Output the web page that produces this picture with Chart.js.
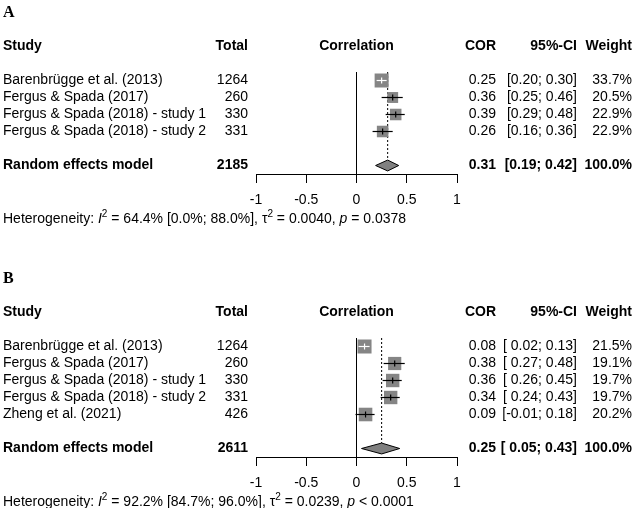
<!DOCTYPE html>
<html>
<head>
<meta charset="utf-8">
<script src="https://cdn.jsdelivr.net/npm/chart.js@4.4.0/dist/chart.umd.min.js"></script>
<style>
  html, body { margin: 0; padding: 0; background: #fff; }
  .panel { position: absolute; left: 0; width: 636px; }
  canvas { display: block; }
</style>
</head>
<body>
<div class="panel" style="top:0"><canvas id="chartA" width="636" height="266"></canvas></div>
<div class="panel" style="top:266px"><canvas id="chartB" width="636" height="242"></canvas></div>
<script>
// panel A
const studiesA = ['Barenbrügge et al. (2013)', 'Fergus & Spada (2017)', 'Fergus & Spada (2018) - study 1', 'Fergus & Spada (2018) - study 2'];
const totalsA = [1264, 260, 330, 331];
const corA = [0.25, 0.36, 0.39, 0.26];
const lowerA = [0.20, 0.25, 0.29, 0.16];
const upperA = [0.30, 0.46, 0.48, 0.36];
const weightA = [33.7, 20.5, 22.9, 22.9];
const pooledA = [0.31, 0.19, 0.42];   // COR, lower, upper
const pooledTotalA = 2185;
const hetA = ['64.4% [0.0%; 88.0%]', '0.0040', '= 0.0378'];

// panel B
const studiesB = ['Barenbrügge et al. (2013)', 'Fergus & Spada (2017)', 'Fergus & Spada (2018) - study 1', 'Fergus & Spada (2018) - study 2', 'Zheng et al. (2021)'];
const totalsB = [1264, 260, 330, 331, 426];
const corB = [0.08, 0.38, 0.36, 0.34, 0.09];
const lowerB = [0.02, 0.27, 0.26, 0.24, -0.01];
const upperB = [0.13, 0.48, 0.45, 0.43, 0.18];
const weightB = [21.5, 19.1, 19.7, 19.7, 20.2];
const pooledB = [0.25, 0.05, 0.43];
const pooledTotalB = 2611;
const hetB = ['92.2% [84.7%; 96.0%]', '0.0239', '< 0.0001'];

const xTicks = [-1, -0.5, 0, 0.5, 1];

const FONT = "'Liberation Sans', Arial, Helvetica, sans-serif";
const ROW_H = 17;
const BOX_MAX = 14;      // side of the largest square, px
const DIAMOND_H = 0.32;  // half height of the diamond, in rows
const COL = { study: 3, total: 248, cor: 496, ci: 577, weight: 632 };

function makePanel(id, label, studies, totals, cor, lower, upper, weight, pooled, pooledTotal, het) {
  const canvas = document.getElementById(id);
  const H = canvas.height;
  const n = studies.length;
  const poolRow = n + 1;
  const wMax = Math.max(...weight);
  const side = weight.map(w => BOX_MAX * Math.sqrt(w / wMax));

  // CI fits inside its square -> draw it white
  const inside = (chart, i) => {
    const xs = chart.scales.x;
    return xs.getPixelForValue(upper[i]) - xs.getPixelForValue(lower[i]) <= side[i];
  };

  const datasets = [];
  datasets.push({
    type: 'line', data: [{ x: 0, y: -0.5 }, { x: 0, y: poolRow + 0.5 }],
    borderColor: '#000', borderWidth: 1, pointRadius: 0, order: 7
  });
  datasets.push({
    type: 'line', data: [{ x: pooled[0], y: -0.5 }, { x: pooled[0], y: poolRow - DIAMOND_H }],
    borderColor: '#000', borderWidth: 1, borderDash: [2, 2], pointRadius: 0, order: 6
  });
  datasets.push({
    type: 'scatter', data: cor.map((c, i) => ({ x: c, y: i })),
    pointStyle: 'rect', pointRadius: side.map(s => s / Math.SQRT2),
    pointBackgroundColor: '#858585', pointBorderWidth: 0, order: 5
  });
  cor.forEach((c, i) => {
    datasets.push({
      type: 'line', data: [{ x: lower[i], y: i }, { x: upper[i], y: i }],
      borderColor: ctx => inside(ctx.chart, i) ? '#fff' : '#000',
      borderWidth: 1.2, pointRadius: 0, order: 4
    });
  });
  datasets.push({
    type: 'scatter', data: cor.map((c, i) => ({ x: c, y: i })),
    pointStyle: 'line', rotation: 90, pointRadius: 3, pointBorderWidth: 1.2,
    pointBorderColor: ctx => inside(ctx.chart, ctx.dataIndex) ? '#fff' : '#000',
    order: 3
  });
  datasets.push({
    type: 'line',
    data: [
      { x: pooled[1], y: poolRow }, { x: pooled[0], y: poolRow - DIAMOND_H },
      { x: pooled[2], y: poolRow }, { x: pooled[0], y: poolRow + DIAMOND_H },
      { x: pooled[1], y: poolRow }
    ],
    fill: 'shape', backgroundColor: '#808080', borderColor: '#000', borderWidth: 1,
    pointRadius: 0, tension: 0, order: 1
  });

  const neg = lower.some(v => v < 0) || pooled[1] < 0;
  const fmtLo = v => (neg && v >= 0 ? ' ' : '') + v.toFixed(2);
  const ciText = (lo, hi) => '[' + fmtLo(lo) + '; ' + hi.toFixed(2) + ']';

  const tablePlugin = {
    id: 'table' + id,
    afterDraw(chart) {
      const ctx = chart.ctx;
      const ys = chart.scales.y, xs = chart.scales.x;
      const rowY = r => ys.getPixelForValue(r);
      const txt = (s, x, y, align, bold) => {
        ctx.font = (bold ? 'bold ' : '') + '14px ' + FONT;
        ctx.textAlign = align;
        ctx.fillText(s, x, y);
      };
      ctx.save();
      ctx.fillStyle = '#000';
      ctx.textBaseline = 'middle';

      ctx.font = "bold 16px 'Liberation Serif', 'Times New Roman', serif";
      ctx.textAlign = 'left';
      ctx.fillText(label, 3, 13);

      const hy = rowY(-2);
      txt('Study', COL.study, hy, 'left', true);
      txt('Total', COL.total, hy, 'right', true);
      txt('Correlation', xs.getPixelForValue(0), hy, 'center', true);
      txt('COR', COL.cor, hy, 'right', true);
      txt('95%-CI', COL.ci, hy, 'right', true);
      txt('Weight', COL.weight, hy, 'right', true);

      studies.forEach((s, i) => {
        const y = rowY(i);
        txt(s, COL.study, y, 'left', false);
        txt(String(totals[i]), COL.total, y, 'right', false);
        txt(cor[i].toFixed(2), COL.cor, y, 'right', false);
        txt(ciText(lower[i], upper[i]), COL.ci, y, 'right', false);
        txt(weight[i].toFixed(1) + '%', COL.weight, y, 'right', false);
      });

      const py = rowY(poolRow);
      txt('Random effects model', COL.study, py, 'left', true);
      txt(String(pooledTotal), COL.total, py, 'right', true);
      txt(pooled[0].toFixed(2), COL.cor, py, 'right', true);
      txt(ciText(pooled[1], pooled[2]), COL.ci, py, 'right', true);
      txt('100.0%', COL.weight, py, 'right', true);

      // heterogeneity line
      const parts = [
        ['Heterogeneity: ', 'n'], ['I', 'i'], ['2', 's'],
        [' = ' + het[0] + ', \u03c4', 'n'], ['2', 's'],
        [' = ' + het[1] + ', ', 'n'], ['p', 'i'], [' ' + het[2], 'n']
      ];
      let x = 3;
      const y = chart.chartArea.bottom + 45;
      ctx.textAlign = 'left';
      parts.forEach(([s, k]) => {
        ctx.font = (k === 'i' ? 'italic 14px ' : k === 's' ? '10px ' : '14px ') + FONT;
        ctx.fillText(s, x, k === 's' ? y - 5 : y);
        x += ctx.measureText(s).width;
      });
      ctx.restore();
    }
  };

  return new Chart(canvas, {
    type: 'scatter',
    data: { datasets },
    options: {
      responsive: false,
      animation: false,
      events: [],
      layout: { padding: { left: 256, right: 179, top: 72, bottom: H - 72 - (poolRow + 1) * ROW_H - 40 } },
      plugins: { legend: { display: false }, tooltip: { enabled: false } },
      scales: {
        x: {
          type: 'linear', min: -1, max: 1,
          afterBuildTicks: s => { s.ticks = xTicks.map(v => ({ value: v })); },
          afterFit: s => { s.height = 40; },
          ticks: { font: { size: 14, family: FONT }, color: '#000', padding: 9, maxRotation: 0, autoSkip: false, callback: v => String(v) },
          grid: { display: true, drawOnChartArea: false, drawTicks: true, tickLength: 9, color: '#000', lineWidth: 1 },
          border: { display: true, color: '#000', width: 1 }
        },
        y: { type: 'linear', min: -0.5, max: poolRow + 0.5, reverse: true, display: false }
      }
    },
    plugins: [tablePlugin]
  });
}

makePanel('chartA', 'A', studiesA, totalsA, corA, lowerA, upperA, weightA, pooledA, pooledTotalA, hetA);
makePanel('chartB', 'B', studiesB, totalsB, corB, lowerB, upperB, weightB, pooledB, pooledTotalB, hetB);
</script>
</body>
</html>
